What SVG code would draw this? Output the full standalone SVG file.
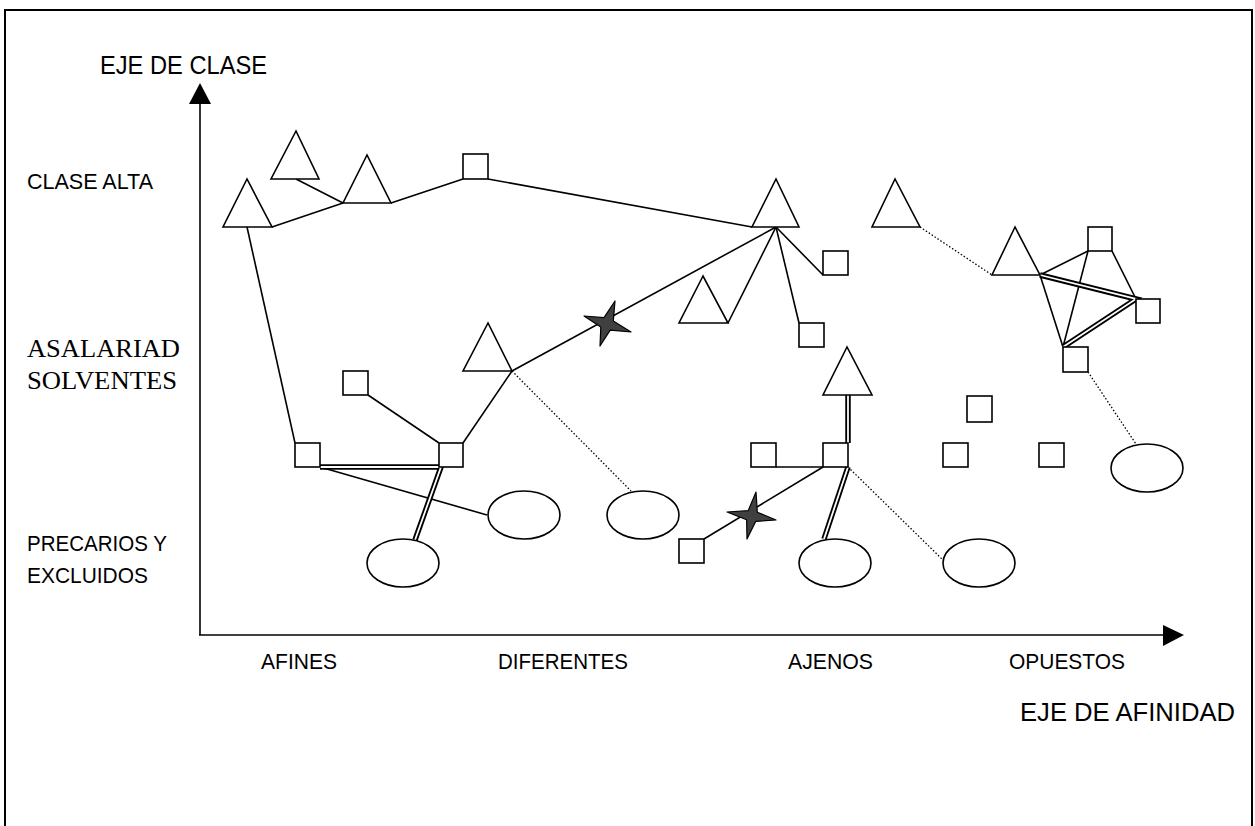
<svg xmlns="http://www.w3.org/2000/svg" width="1255" height="826" viewBox="0 0 1255 826">
<style>
.sh{fill:#fff;stroke:#000;stroke-width:1.6}
.ln{fill:none;stroke:#000;stroke-width:1.6}
.dt{fill:none;stroke:#000;stroke-width:1.3;stroke-dasharray:1.5 2}
.dbo{fill:none;stroke:#000;stroke-width:5.5}
.dbi{fill:none;stroke:#fff;stroke-width:1.8}
.star{fill:#404040;stroke:#000;stroke-width:1.2;stroke-linejoin:round}
.sans{font-family:"Liberation Sans",Arial,sans-serif;fill:#000}
.serif{font-family:"Liberation Serif","Times New Roman",serif;fill:#000}
</style>
<rect x="0" y="0" width="1255" height="826" fill="#fff"/>
<path d="M5,840 V10 H1252 V840" fill="none" stroke="#000" stroke-width="2"/>

<g id="axes">
<line x1="200" y1="635" x2="200" y2="100" stroke="#000" stroke-width="1.6"/>
<polygon points="200,83 189,104 211,104" fill="#000"/>
<line x1="199" y1="635" x2="1166" y2="635" stroke="#000" stroke-width="1.6"/>
<polygon points="1184,635 1163,625 1163,646" fill="#000"/>
</g>

<g id="labels">
<text class="sans" x="100" y="74" font-size="26.5" textLength="167" lengthAdjust="spacingAndGlyphs">EJE DE CLASE</text>
<text class="sans" x="27" y="189" font-size="22" textLength="126" lengthAdjust="spacingAndGlyphs">CLASE ALTA</text>
<text class="serif" x="27" y="357" font-size="26" textLength="153" lengthAdjust="spacingAndGlyphs">ASALARIAD</text>
<text class="serif" x="27" y="389" font-size="26" textLength="150" lengthAdjust="spacingAndGlyphs">SOLVENTES</text>
<text class="sans" x="27" y="551" font-size="22" textLength="140" lengthAdjust="spacingAndGlyphs">PRECARIOS Y</text>
<text class="sans" x="27" y="583" font-size="22" textLength="121" lengthAdjust="spacingAndGlyphs">EXCLUIDOS</text>
<text class="sans" x="261" y="669" font-size="22" textLength="76" lengthAdjust="spacingAndGlyphs">AFINES</text>
<text class="sans" x="498" y="669" font-size="22" textLength="130" lengthAdjust="spacingAndGlyphs">DIFERENTES</text>
<text class="sans" x="788" y="669" font-size="22" textLength="85" lengthAdjust="spacingAndGlyphs">AJENOS</text>
<text class="sans" x="1009" y="669" font-size="22" textLength="116" lengthAdjust="spacingAndGlyphs">OPUESTOS</text>
<text class="sans" x="1020" y="721" font-size="26.5" textLength="215" lengthAdjust="spacingAndGlyphs">EJE DE AFINIDAD</text>
</g>

<g id="connectors">
<polyline class="ln" points="272,227 343,203"/>
<line class="ln" x1="296" y1="179" x2="343" y2="203"/>
<line class="ln" x1="391" y1="203" x2="463" y2="179"/>
<line class="ln" x1="488" y1="179" x2="752" y2="227"/>
<line class="ln" x1="247" y1="227" x2="295" y2="443"/>
<line class="ln" x1="368" y1="395" x2="439" y2="443"/>
<line class="ln" x1="463" y1="443" x2="512" y2="371"/>
<line class="ln" x1="512" y1="371" x2="776" y2="227"/>
<line class="ln" x1="320" y1="467" x2="487" y2="515"/>
<line class="dt" x1="512" y1="371" x2="631" y2="491"/>
<line class="ln" x1="776" y1="227" x2="728" y2="323"/>
<line class="ln" x1="776" y1="227" x2="823" y2="275"/>
<line class="ln" x1="776" y1="227" x2="799" y2="323"/>
<line class="ln" x1="776" y1="467" x2="823" y2="467"/>
<line class="ln" x1="823" y1="467" x2="704" y2="539"/>
<line class="dt" x1="848" y1="467" x2="943" y2="560"/>
<line class="dt" x1="920" y1="227" x2="992" y2="275"/>
<line class="ln" x1="1040" y1="275" x2="1088" y2="251"/>
<line class="ln" x1="1088" y1="251" x2="1063" y2="347"/>
<line class="ln" x1="1112" y1="251" x2="1136" y2="299"/>
<line class="ln" x1="1040" y1="275" x2="1063" y2="347"/>
<line class="dt" x1="1088" y1="372" x2="1136" y2="444"/>
<g id="double-lines">
<polyline class="dbo" points="320,467 441,467 415,540"/>
<polyline class="dbi" points="320,467 441,467 415,540"/>
<line class="dbo" x1="848" y1="395" x2="848" y2="443"/>
<line class="dbi" x1="848" y1="395" x2="848" y2="443"/>
<line class="dbo" x1="848" y1="467" x2="824" y2="539"/>
<line class="dbi" x1="848" y1="467" x2="824" y2="539"/>
<polyline class="dbo" points="1040,275 1136,299 1063,347"/>
<polyline class="dbi" points="1040,275 1136,299 1063,347"/>
</g>
</g>

<g id="nodes">
<g id="t1"><polygon class="sh" points="247,179 223,227 272,227"/></g>
<g id="t2"><polygon class="sh" points="296,131 271,179 319,179"/></g>
<g id="t3"><polygon class="sh" points="367,155 343,203 391,203"/></g>
<g id="s1"><rect class="sh" x="463" y="154" width="25" height="25"/></g>
<g id="t4"><polygon class="sh" points="776,179 752,227 799,227"/></g>
<g id="t5"><polygon class="sh" points="488,323 463,371 512,371"/></g>
<g id="t6"><polygon class="sh" points="703,276 679,323 728,323"/></g>
<g id="s5"><rect class="sh" x="823" y="251" width="25" height="24"/></g>
<g id="s6"><rect class="sh" x="799" y="323" width="25" height="24"/></g>
<g id="s2"><rect class="sh" x="295" y="443" width="25" height="24"/></g>
<g id="s3"><rect class="sh" x="343" y="371" width="25" height="24"/></g>
<g id="s4"><rect class="sh" x="439" y="443" width="24" height="24"/></g>
<g id="e1"><ellipse class="sh" cx="403" cy="563" rx="36" ry="24"/></g>
<g id="e2"><ellipse class="sh" cx="524" cy="515" rx="36" ry="24"/></g>
<g id="e3"><ellipse class="sh" cx="643" cy="515" rx="36" ry="24"/></g>
<g id="star1"><polygon class="star" points="615,301 613.3,320.9 631,332 610.2,330.2 600,346 600.8,327.1 584,316 604,317.7"/></g>
<g id="t7"><polygon class="sh" points="847,347 823,395 872,395"/></g>
<g id="s7"><rect class="sh" x="751" y="443" width="25" height="24"/></g>
<g id="s8"><rect class="sh" x="823" y="443" width="25" height="24"/></g>
<g id="s9"><rect class="sh" x="679" y="539" width="25" height="24"/></g>
<g id="star2"><polygon class="star" points="756,492 757.3,512.2 776,520 755.7,521.4 747,539 746.6,519.7 727,512 748.2,510.7"/></g>
<g id="e4"><ellipse class="sh" cx="835" cy="563" rx="36" ry="24"/></g>
<g id="e5"><ellipse class="sh" cx="979" cy="563" rx="36" ry="24"/></g>
<g id="t8"><polygon class="sh" points="895,179 872,227 920,227"/></g>
<g id="t9"><polygon class="sh" points="1015,227 992,275 1040,275"/></g>
<g id="s10"><rect class="sh" x="1088" y="227" width="24" height="24"/></g>
<g id="s11"><rect class="sh" x="1136" y="299" width="24" height="24"/></g>
<g id="s12"><rect class="sh" x="1063" y="347" width="25" height="25"/></g>
<g id="s13"><rect class="sh" x="967" y="396" width="25" height="26"/></g>
<g id="s14"><rect class="sh" x="943" y="443" width="25" height="24"/></g>
<g id="s15"><rect class="sh" x="1039" y="443" width="25" height="24"/></g>
<g id="e6"><ellipse class="sh" cx="1147" cy="468" rx="36" ry="24"/></g>
</g>
</svg>
